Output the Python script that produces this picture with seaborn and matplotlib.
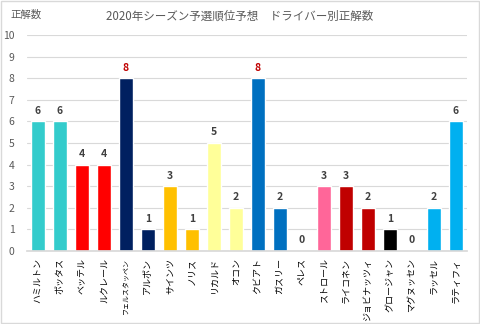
import matplotlib
matplotlib.use("Agg")
import matplotlib.pyplot as plt
import seaborn as sns
import pandas as pd
from matplotlib.patches import Rectangle

drivers = ["ハミルトン", "ボッタス", "ベッテル", "ルクレール", "フェルスタッペン", "アルボン",
           "サインツ", "ノリス", "リカルド", "オコン", "クビアト", "ガスリー", "ペレス",
           "ストロール", "ライコネン", "ジョビナッツィ", "グロージャン", "マグヌッセン",
           "ラッセル", "ラティフィ"]
correct = [6, 6, 4, 4, 8, 1, 3, 1, 5, 2, 8, 2, 0, 3, 3, 2, 1, 0, 2, 6]
colors = ["#33CCCC", "#33CCCC", "#FF0000", "#FF0000", "#002060", "#002060",
          "#FFC000", "#FFC000", "#FFFF99", "#FFFF99", "#0070C0", "#0070C0", "#FF6699",
          "#FF6699", "#C00000", "#C00000", "#000000", "#000000", "#00B0F0", "#00B0F0"]
title = "2020年シーズン予選順位予想　ドライバー別正解数"
ylabel = "正解数"

sns.set_theme(style="white")
plt.rcParams['font.family'] = ['Noto Sans CJK JP', 'DejaVu Sans']

df = pd.DataFrame({"driver": drivers, "correct": correct})

fig = plt.figure(figsize=(4.8, 3.24), dpi=100)
ax = fig.add_axes([27/480, 1 - 251/324, 440/480, 216/324])
sns.barplot(data=df, x="driver", y="correct", hue="driver", palette=colors,
            width=0.64, saturation=1, legend=False, ax=ax)

ax.set_ylim(0, 10)
ax.set_xlim(-0.5, len(drivers) - 0.5)
ax.set_yticks(range(0, 11))
ax.yaxis.grid(True, color="#D9D9D9", linewidth=0.8)
ax.set_axisbelow(True)
for s in ["top", "right", "left"]:
    ax.spines[s].set_visible(False)
ax.spines["bottom"].set_color("#D9D9D9")
ax.set_xlabel("")
ax.set_ylabel("")
ax.tick_params(axis="y", length=0, pad=9, labelsize=7.5, labelcolor="#595959")
ax.tick_params(axis="x", length=0, pad=5, labelsize=6.5, labelcolor="#000000")
for lab in ax.get_xticklabels():
    lab.set_rotation(90)
    if len(lab.get_text()) > 7:
        lab.set_fontsize(5.0)

for cont in ax.containers:
    for bar in cont:
        h = bar.get_height()
        if h != h:
            continue
        val = int(round(h))
        col = "#C00000" if val == 8 else "#404040"
        ax.annotate(str(val), (bar.get_x() + bar.get_width() / 2, h),
                    xytext=(0, 4), textcoords="offset points", ha="center", va="bottom",
                    fontsize=7.5, fontweight="bold", color=col)

fig.text(0.5, 1 - 16/324, title, ha="center", va="center", fontsize=8.3, color="#595959")
fig.text(10/480, 1 - 15/324, ylabel, ha="left", va="center", fontsize=7.5, color="#595959")

fig.patches.append(Rectangle((0.002, 0.003), 0.995, 0.994, transform=fig.transFigure,
                             fill=False, edgecolor="#D9D9D9", linewidth=1))

fig.savefig("out.png", dpi=100, facecolor="white")
